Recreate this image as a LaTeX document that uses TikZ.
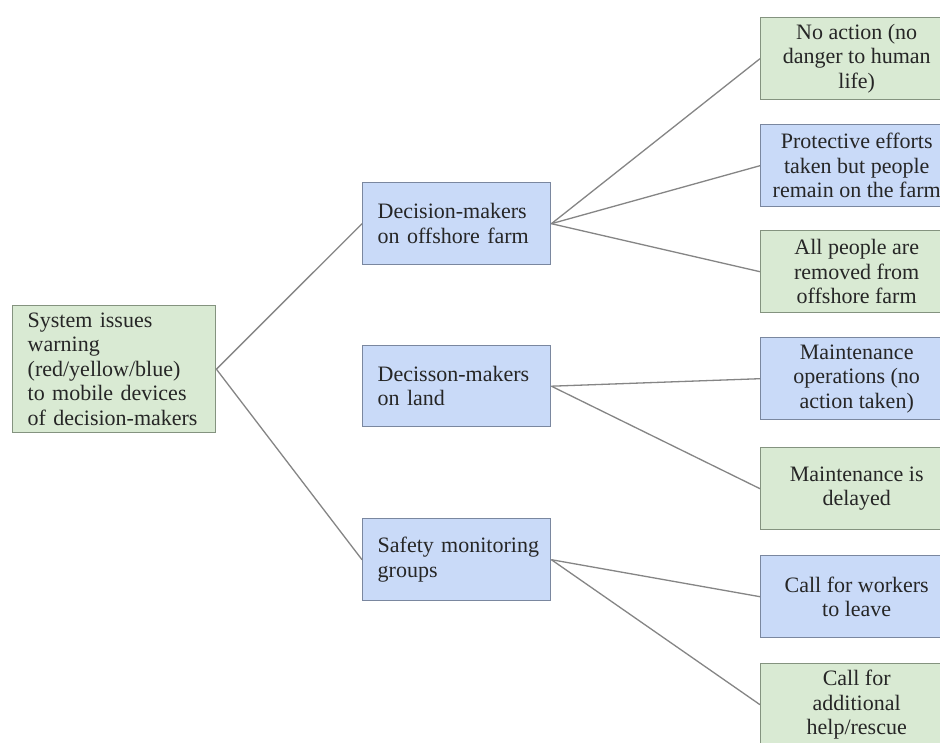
\documentclass[tikz,border=0pt]{standalone}
\usepackage{fontspec}
\setmainfont{Liberation Serif}
\definecolor{gfill}{HTML}{D9EAD3}
\definecolor{gdraw}{HTML}{84937F}
\definecolor{bfill}{HTML}{C9DAF8}
\definecolor{bdraw}{HTML}{7A879F}
\definecolor{lcol}{HTML}{858585}
\definecolor{tcol}{HTML}{262626}
\begin{document}
\begin{tikzpicture}[x=1pt,y=-1pt,
  box/.style={rectangle, line width=1.4pt, text=tcol, font=\fontsize{22}{24.5}\selectfont, anchor=north west},
  gbox/.style={box, fill=gfill, draw=gdraw},
  bbox/.style={box, fill=bfill, draw=bdraw},
  leftbox/.style={align=left, inner xsep=15pt},
  rbox/.style={align=center, minimum width=192pt, minimum height=82pt, inner xsep=4pt},
  link/.style={draw=lcol, line width=1.3pt}]
\useasboundingbox (0,0) rectangle (940,743);
\fill[white] (0,0) rectangle (940,743);
\clip (0,0) rectangle (940,743);
% left
\node[gbox, leftbox, text width=173pt, minimum height=127pt] (root) at (12,305)
  {System issues\\warning\\(red/yellow/blue)\\to mobile devices\\of decision-makers};
% middle
\node[bbox, leftbox, text width=158pt, minimum height=82pt] (m1) at (362,182)
  {Decision-makers\\on offshore farm};
\node[bbox, leftbox, text width=158pt, minimum height=81pt] (m2) at (362,345)
  {Decisson-makers\\on land};
\node[bbox, leftbox, text width=158pt, minimum height=82pt] (m3) at (362,518)
  {\mbox{Safety monitoring}\\groups};
% right
\node[gbox, rbox] (r1) at (760,17) {No action (no\\danger to human\\life)};
\node[bbox, rbox] (r2) at (760,124) {Protective efforts\\taken but people\\remain on the farm};
\node[gbox, rbox] (r3) at (760,230) {All people are\\removed from\\offshore farm};
\node[bbox, rbox] (r4) at (760,337) {Maintenance\\operations (no\\action taken)};
\node[gbox, rbox] (r5) at (760,447) {Maintenance is\\delayed};
\node[bbox, rbox] (r6) at (760,555) {Call for workers\\to leave};
\node[gbox, rbox] (r7) at (760,663) {Call for\\additional\\help/rescue};
% connectors
\draw[link] (root.east) -- (m1.west);
\draw[link] (root.east) -- (m3.west);
\draw[link] (m1.east) -- (r1.west);
\draw[link] (m1.east) -- (r2.west);
\draw[link] (m1.east) -- (r3.west);
\draw[link] (m2.east) -- (r4.west);
\draw[link] (m2.east) -- (r5.west);
\draw[link] (m3.east) -- (r6.west);
\draw[link] (m3.east) -- (r7.west);
\end{tikzpicture}
\end{document}
